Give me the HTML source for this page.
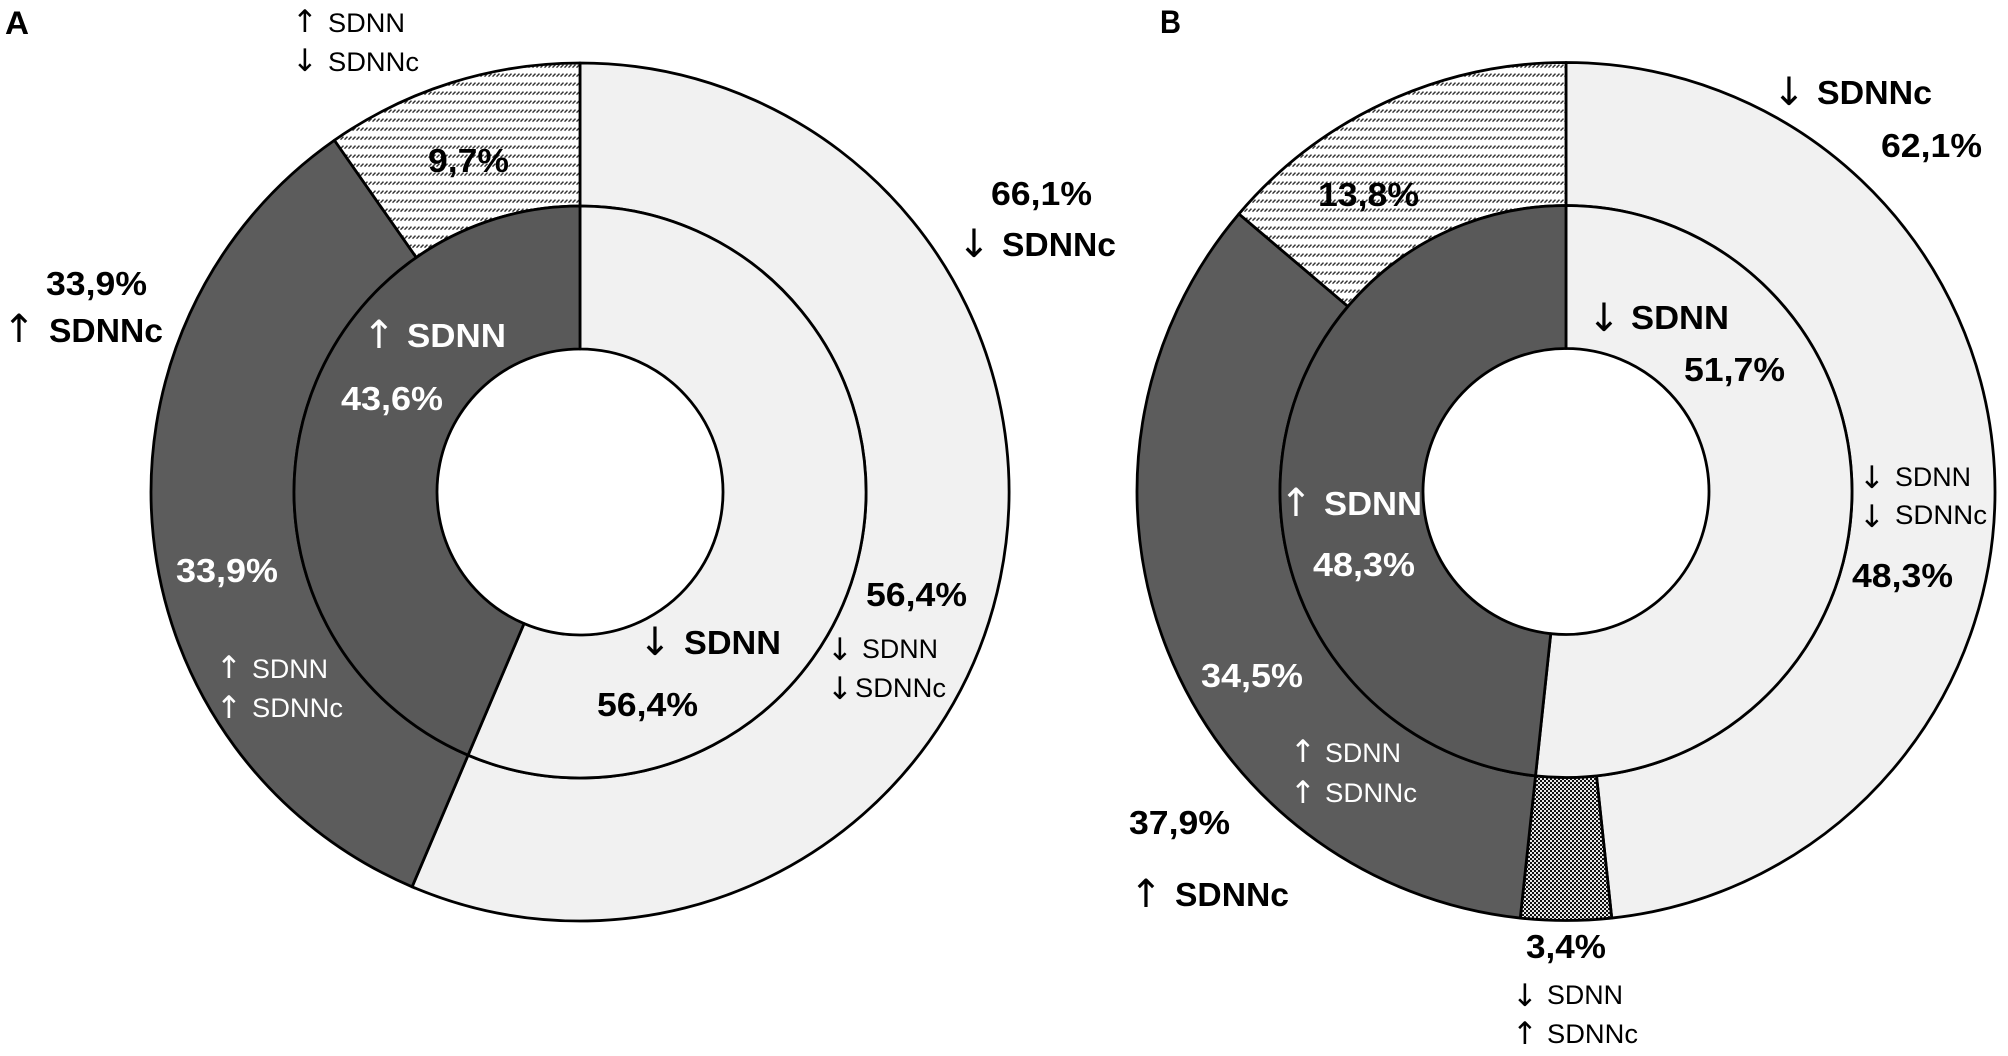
<!DOCTYPE html>
<html lang="en">
<head>
<meta charset="utf-8">
<title>SDNN and SDNNc nested donut charts</title>
<style>
html,body{margin:0;padding:0;background:#fff;}
svg{display:block;}
text{font-family:"Liberation Sans",sans-serif;fill:#000;}
.b{font-weight:700;font-size:33px;}
.r{font-size:27px;}
.w{fill:#fff;}
.ar{font-family:"DejaVu Sans",sans-serif;font-size:31px;text-anchor:middle;transform:translateY(-3px);}
.ab{font-family:"DejaVu Sans",sans-serif;font-size:39px;text-anchor:middle;transform:translateY(-4px);}
.p{font-weight:700;font-size:32px;}
</style>
</head>
<body>
<svg id="chart" xmlns="http://www.w3.org/2000/svg" width="2008" height="1056" viewBox="0 0 2008 1056">
<defs>
<pattern id="hatch" patternUnits="userSpaceOnUse" width="4" height="9">
<rect width="4" height="9" fill="#fff"/>
<path d="M0.5 4.6 L3.5 1.6" stroke="#333" stroke-width="1.4"/>
</pattern>
<pattern id="dots" patternUnits="userSpaceOnUse" width="4" height="4">
<rect width="4" height="4" fill="#e8e8e8"/>
<rect x="0" y="0" width="2" height="2" fill="#111"/>
<rect x="2" y="2" width="2" height="2" fill="#111"/>
</pattern>
</defs>
<g id="slices"></g>

<g>
<text class="p" x="5" y="34" textLength="24" lengthAdjust="spacingAndGlyphs">A</text>

<text class="ar" x="305" y="35">↑</text>
<text class="r" x="328" y="32" textLength="77" lengthAdjust="spacingAndGlyphs">SDNN</text>
<text class="ar" x="305" y="74">↓</text>
<text class="r" x="328" y="71" textLength="91" lengthAdjust="spacingAndGlyphs">SDNNc</text>
<text class="b" x="428" y="172" textLength="81" lengthAdjust="spacingAndGlyphs">9,7%</text>

<text class="b" x="46" y="295" textLength="101" lengthAdjust="spacingAndGlyphs">33,9%</text>
<text class="ab" x="19" y="346">↑</text>
<text class="b" x="49" y="342" textLength="114" lengthAdjust="spacingAndGlyphs">SDNNc</text>

<text class="ab w" x="379" y="352">↑</text>
<text class="b w" x="407" y="347" textLength="99" lengthAdjust="spacingAndGlyphs">SDNN</text>
<text class="b w" x="341" y="410" textLength="102" lengthAdjust="spacingAndGlyphs">43,6%</text>

<text class="b w" x="176" y="582" textLength="102" lengthAdjust="spacingAndGlyphs">33,9%</text>
<text class="ar w" x="229" y="681">↑</text>
<text class="r w" x="252" y="678" textLength="76" lengthAdjust="spacingAndGlyphs">SDNN</text>
<text class="ar w" x="229" y="721">↑</text>
<text class="r w" x="252" y="717" textLength="91" lengthAdjust="spacingAndGlyphs">SDNNc</text>

<text class="b" x="866" y="606" textLength="101" lengthAdjust="spacingAndGlyphs">56,4%</text>
<text class="ab" x="655" y="659">↓</text>
<text class="b" x="684" y="654" textLength="97" lengthAdjust="spacingAndGlyphs">SDNN</text>
<text class="ar" x="840" y="663">↓</text>
<text class="r" x="862" y="658" textLength="76" lengthAdjust="spacingAndGlyphs">SDNN</text>
<text class="ar" x="840" y="702">↓</text>
<text class="r" x="855" y="697" textLength="91" lengthAdjust="spacingAndGlyphs">SDNNc</text>
<text class="b" x="597" y="716" textLength="101" lengthAdjust="spacingAndGlyphs">56,4%</text>

<text class="b" x="991" y="205" textLength="101" lengthAdjust="spacingAndGlyphs">66,1%</text>
<text class="ab" x="974" y="261">↓</text>
<text class="b" x="1002" y="256" textLength="114" lengthAdjust="spacingAndGlyphs">SDNNc</text>
</g>

<g>
<text class="p" x="1160" y="33" textLength="21" lengthAdjust="spacingAndGlyphs">B</text>

<text class="ab" x="1789" y="109">↓</text>
<text class="b" x="1817" y="104" textLength="115" lengthAdjust="spacingAndGlyphs">SDNNc</text>
<text class="b" x="1881" y="157" textLength="101" lengthAdjust="spacingAndGlyphs">62,1%</text>
<text class="b" x="1318" y="206" textLength="101" lengthAdjust="spacingAndGlyphs">13,8%</text>

<text class="ab" x="1604" y="335">↓</text>
<text class="b" x="1631" y="329" textLength="98" lengthAdjust="spacingAndGlyphs">SDNN</text>
<text class="b" x="1684" y="381" textLength="101" lengthAdjust="spacingAndGlyphs">51,7%</text>

<text class="ar" x="1872" y="491">↓</text>
<text class="r" x="1895" y="486" textLength="76" lengthAdjust="spacingAndGlyphs">SDNN</text>
<text class="ar" x="1872" y="530">↓</text>
<text class="r" x="1895" y="524" textLength="92" lengthAdjust="spacingAndGlyphs">SDNNc</text>
<text class="b" x="1852" y="587" textLength="101" lengthAdjust="spacingAndGlyphs">48,3%</text>

<text class="ab w" x="1296" y="520">↑</text>
<text class="b w" x="1324" y="515" textLength="98" lengthAdjust="spacingAndGlyphs">SDNN</text>
<text class="b w" x="1313" y="576" textLength="102" lengthAdjust="spacingAndGlyphs">48,3%</text>
<text class="b w" x="1201" y="687" textLength="102" lengthAdjust="spacingAndGlyphs">34,5%</text>

<text class="ar w" x="1303" y="765">↑</text>
<text class="r w" x="1325" y="762" textLength="76" lengthAdjust="spacingAndGlyphs">SDNN</text>
<text class="ar w" x="1303" y="806">↑</text>
<text class="r w" x="1325" y="802" textLength="92" lengthAdjust="spacingAndGlyphs">SDNNc</text>

<text class="b" x="1129" y="834" textLength="101" lengthAdjust="spacingAndGlyphs">37,9%</text>
<text class="ab" x="1146" y="911">↑</text>
<text class="b" x="1175" y="906" textLength="114" lengthAdjust="spacingAndGlyphs">SDNNc</text>

<text class="b" x="1526" y="958" textLength="80" lengthAdjust="spacingAndGlyphs">3,4%</text>
<text class="ar" x="1525" y="1009">↓</text>
<text class="r" x="1547" y="1004" textLength="76" lengthAdjust="spacingAndGlyphs">SDNN</text>
<text class="ar" x="1525" y="1047">↑</text>
<text class="r" x="1547" y="1043" textLength="91" lengthAdjust="spacingAndGlyphs">SDNNc</text>
</g>
</svg>
<script>
const panelAOuterCategories = ['down-down', 'up-up', 'up-down'];
const panelAOuterValues = [56.4, 33.9, 9.7];
const panelAInnerCategories = ['down', 'up'];
const panelAInnerValues = [56.4, 43.6];
const panelBOuterCategories = ['down-down', 'down-up', 'up-up', 'up-down'];
const panelBOuterValues = [48.3, 3.4, 34.5, 13.8];
const panelBInnerCategories = ['down', 'up'];
const panelBInnerValues = [51.7, 48.3];

const fillFor = {
  'down-down': '#f1f1f1',
  'down': '#f1f1f1',
  'up-up': '#5c5c5c',
  'up': '#595959',
  'up-down': 'url(#hatch)',
  'down-up': 'url(#dots)'
};
const SVG_NS = 'http://www.w3.org/2000/svg';
const layer = document.getElementById('slices');
const RADIUS_OUTER = 429;
const RADIUS_MIDDLE = 286;
const RADIUS_INNER = 143;

function angleOf(share, total) {
  return (share / total) * 2 * Math.PI;
}
function pointAt(cx, cy, r, a) {
  return [cx + r * Math.sin(a), cy - r * Math.cos(a)];
}
function ringPath(cx, cy, r0, r1, a0, a1) {
  const large = a1 - a0 > Math.PI ? 1 : 0;
  const p0 = pointAt(cx, cy, r1, a0);
  const p1 = pointAt(cx, cy, r1, a1);
  const p2 = pointAt(cx, cy, r0, a1);
  const p3 = pointAt(cx, cy, r0, a0);
  return 'M' + p0[0] + ' ' + p0[1] +
    'A' + r1 + ' ' + r1 + ' 0 ' + large + ' 1 ' + p1[0] + ' ' + p1[1] +
    'L' + p2[0] + ' ' + p2[1] +
    'A' + r0 + ' ' + r0 + ' 0 ' + large + ' 0 ' + p3[0] + ' ' + p3[1] + 'Z';
}
function drawRing(prefix, cx, cy, r0, r1, categories, values) {
  const total = values.reduce(function (s, v) { return s + v; }, 0);
  let running = 0;
  values.forEach(function (value, i) {
    const a0 = angleOf(running, total);
    running += value;
    const a1 = angleOf(running, total);
    const el = document.createElementNS(SVG_NS, 'path');
    el.setAttribute('d', ringPath(cx, cy, r0, r1, a0, a1));
    el.setAttribute('fill', fillFor[categories[i]]);
    el.setAttribute('stroke', '#000');
    el.setAttribute('stroke-width', '2.8');
    el.setAttribute('stroke-linejoin', 'round');
    
    
    layer.appendChild(el);
  });
}
drawRing('panel-a-outer', 580, 492, RADIUS_MIDDLE, RADIUS_OUTER, panelAOuterCategories, panelAOuterValues);
drawRing('panel-a-inner', 580, 492, RADIUS_INNER, RADIUS_MIDDLE, panelAInnerCategories, panelAInnerValues);
drawRing('panel-b-outer', 1566, 491.5, RADIUS_MIDDLE, RADIUS_OUTER, panelBOuterCategories, panelBOuterValues);
drawRing('panel-b-inner', 1566, 491.5, RADIUS_INNER, RADIUS_MIDDLE, panelBInnerCategories, panelBInnerValues);
</script>
</body>
</html>
